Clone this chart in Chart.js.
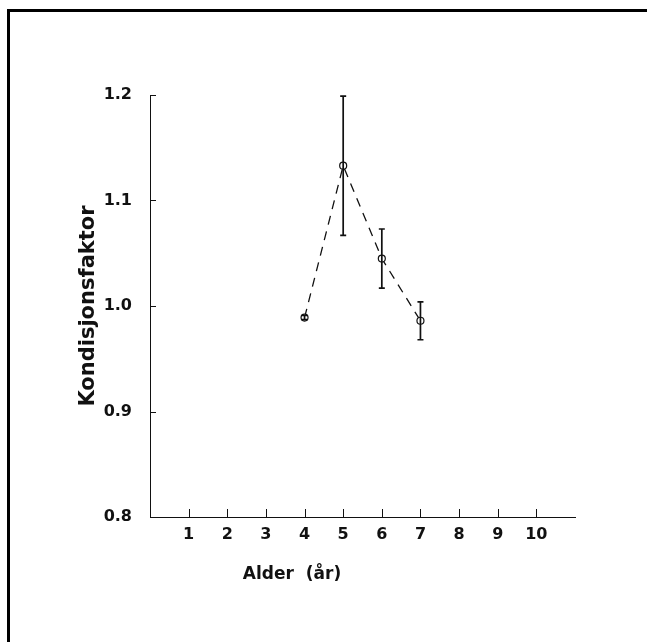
<!DOCTYPE html>
<html lang="no">
<head>
<meta charset="utf-8">
<title>Kondisjonsfaktor etter alder</title>
<script src="https://cdn.jsdelivr.net/npm/chart.js@4/dist/chart.umd.min.js"></script>
<style>
  html, body { margin: 0; padding: 0; background: #fff; }
  #wrap { position: relative; width: 647px; height: 642px; overflow: hidden; }
  #frame {
    position: absolute; left: 7px; top: 9px; right: -10px; bottom: -10px;
    border-top: 3px solid #000; border-left: 3px solid #000;
  }
  canvas { position: absolute; left: 0; top: 0; }
</style>
</head>
<body>
<div id="wrap">
  <div id="frame"></div>
  <canvas id="chart" width="647" height="642"></canvas>
</div>
<script>
"use strict";

// Age (years) for each sampled group.
const ages = [4, 5, 6, 7];
// Mean condition factor per age group.
const kondisjon = [0.989, 1.133, 1.045, 0.986];
// Error bar ends (lower / upper) per age group.
const errLow = [0.987, 1.067, 1.017, 0.968];
const errHigh = [0.991, 1.199, 1.073, 1.004];
// Axis tick values.
const xTicks = [1, 2, 3, 4, 5, 6, 7, 8, 9, 10];
const yTicks = [0.8, 0.9, 1.0, 1.1, 1.2];

const FONT = "'DejaVu Sans', 'Liberation Sans', Arial, sans-serif";
const INK = "#111";

/** Short tick marks drawn inward from the axes, like the printed figure. */
const innerTicks = {
  id: "innerTicks",
  afterDraw(chart) {
    const { ctx, chartArea, scales } = chart;
    ctx.save();
    ctx.strokeStyle = INK;
    ctx.lineWidth = 1;
    ctx.beginPath();
    for (const v of xTicks) {
      const x = Math.round(scales.x.getPixelForValue(v)) + 0.5;
      ctx.moveTo(x, chartArea.bottom);
      ctx.lineTo(x, chartArea.bottom - 8);
    }
    for (const v of yTicks.slice(1)) {
      const y = Math.round(scales.y.getPixelForValue(v)) + 0.5;
      ctx.moveTo(chartArea.left, y);
      ctx.lineTo(chartArea.left + 6, y);
    }
    ctx.stroke();
    ctx.restore();
  },
};

/** Vertical error bars with small caps. */
const errorBars = {
  id: "errorBars",
  afterDatasetsDraw(chart) {
    const { ctx, scales } = chart;
    ctx.save();
    ctx.strokeStyle = INK;
    ctx.lineWidth = 1.7;
    ctx.beginPath();
    ages.forEach((age, i) => {
      const x = scales.x.getPixelForValue(age);
      const lo = scales.y.getPixelForValue(errLow[i]);
      const hi = scales.y.getPixelForValue(errHigh[i]);
      ctx.moveTo(x, lo);
      ctx.lineTo(x, hi);
      ctx.moveTo(x - 3, lo);
      ctx.lineTo(x + 3, lo);
      ctx.moveTo(x - 3, hi);
      ctx.lineTo(x + 3, hi);
    });
    ctx.stroke();
    ctx.restore();
  },
};

/** X axis title, set left of centre as in the original. */
const xTitle = {
  id: "xTitle",
  afterDraw(chart) {
    const { ctx } = chart;
    ctx.save();
    ctx.fillStyle = INK;
    ctx.font = `bold 17px ${FONT}`;
    ctx.textAlign = "center";
    ctx.textBaseline = "middle";
    ctx.fillText("Alder  (år)", 292, 575);
    ctx.restore();
  },
};

new Chart(document.getElementById("chart"), {
  type: "line",
  data: {
    datasets: [
      {
        data: ages.map((age, i) => ({ x: age, y: kondisjon[i] })),
        borderColor: INK,
        borderWidth: 1.3,
        borderDash: [9, 7],
        pointStyle: "circle",
        pointRadius: 3.5,
        pointBorderWidth: 1.2,
        pointBorderColor: INK,
        pointBackgroundColor: "#fff",
        tension: 0,
      },
    ],
  },
  options: {
    responsive: false,
    animation: false,
    events: [],
    layout: { padding: { left: 0, right: 72, top: 95, bottom: 0 } },
    plugins: { legend: { display: false }, tooltip: { enabled: false } },
    scales: {
      x: {
        type: "linear",
        min: 0,
        max: 11,
        afterFit(scale) { scale.height = 125; },
        afterBuildTicks(scale) {
          scale.ticks = [0, ...xTicks, 11].map((value) => ({ value }));
        },
        grid: { display: true, drawOnChartArea: false, drawTicks: false },
        border: { display: true, color: INK, width: 1 },
        ticks: {
          padding: 8,
          color: INK,
          font: { family: FONT, size: 16, weight: "bold" },
          callback: (v) => (v >= 1 && v <= 10 ? String(v) : ""),
        },
      },
      y: {
        min: 0.8,
        max: 1.2,
        afterFit(scale) { scale.width = 150; },
        afterBuildTicks(scale) {
          scale.ticks = yTicks.map((value) => ({ value }));
        },
        grid: { display: true, drawOnChartArea: false, drawTicks: false },
        border: { display: true, color: INK, width: 1 },
        ticks: {
          padding: 18,
          color: INK,
          font: { family: FONT, size: 16, weight: "bold" },
          callback: (v) => Number(v).toFixed(1),
        },
        title: {
          display: true,
          text: "Kondisjonsfaktor",
          color: INK,
          font: { family: FONT, size: 21, weight: "bold" },
          padding: { top: 76, bottom: 0 },
        },
      },
    },
  },
  plugins: [errorBars, innerTicks, xTitle],
});
</script>
</body>
</html>
